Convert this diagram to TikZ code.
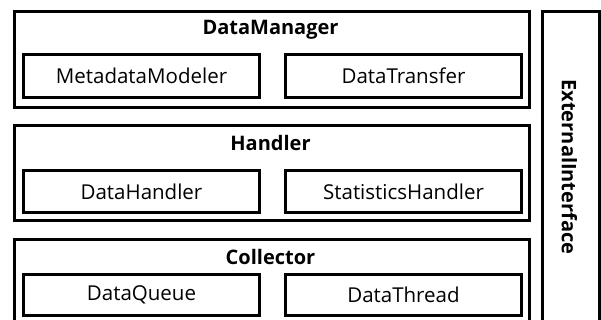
\documentclass[tikz,border=0pt]{standalone}
\usepackage{fontspec}
\setmainfont{Open Sans}
\begin{document}
\begin{tikzpicture}[x=1pt,y=-1pt,
  frame/.style={draw, line width=3pt, anchor=north west, inner sep=0pt},
  outerbox/.style={frame, minimum width=515pt},
  innerbox/.style={frame, minimum width=236pt, minimum height=43pt, font=\fontsize{20.5}{24}\selectfont},
  title/.style={font=\fontsize{20}{24}\selectfont\bfseries, inner sep=0pt}]
\useasboundingbox (0,0) rectangle (601,320);
\clip (0,0) rectangle (601,320);
% DataManager
\node[outerbox, minimum height=96pt] (dm) at (13,10) {};
\node[title] (dmt) at (270.5,30) {DataManager};
\node[innerbox] (mm) at (22,53) {MetadataModeler};
\node[innerbox] (dt) at (284,53) {DataTransfer};
% Handler
\node[outerbox, minimum height=95pt] (hd) at (13,124) {};
\node[title] (hdt) at (270.5,143) {Handler};
\node[innerbox, minimum height=42pt] (dh) at (22,169) {DataHandler};
\node[innerbox, minimum height=42pt] (sh) at (284,169) {StatisticsHandler};
% Collector
\node[outerbox, minimum height=100pt] (co) at (13,238) {};
\node[title] (cot) at (270.5,257) {Collector};
\node[innerbox, minimum height=41pt] (dq) at (22,273) {DataQueue};
\node[innerbox, minimum height=41pt] (dth) at (284,273) {DataThread};
% ExternalInterface
\node[frame, minimum width=57pt, minimum height=330pt] (ei) at (541,10) {};
\node[title, rotate=-90] (eit) at (569.5,167) {ExternalInterface};
\end{tikzpicture}
\end{document}
